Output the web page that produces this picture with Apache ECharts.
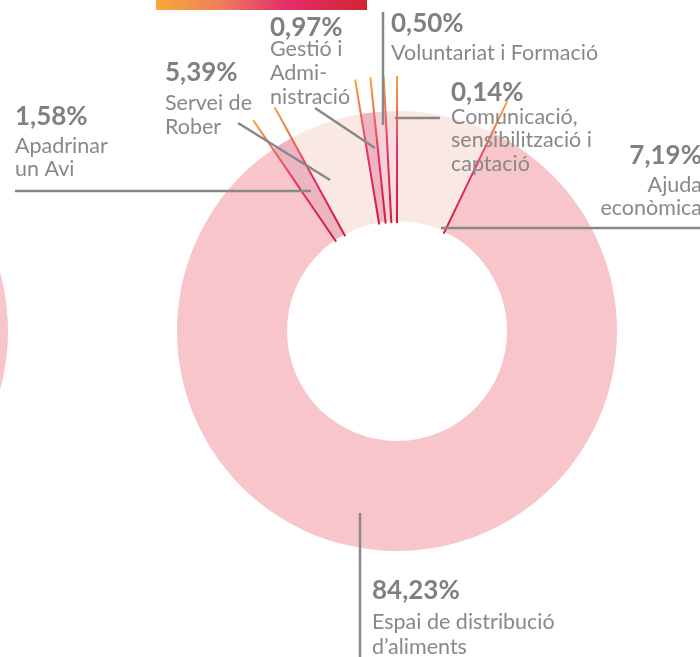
<!DOCTYPE html>
<html>
<head>
<meta charset="utf-8">
<script src="https://cdn.jsdelivr.net/npm/echarts@6/dist/echarts.min.js"></script>
<style>
  html, body { margin: 0; padding: 0; background: #fff; }
  #chart { width: 700px; height: 657px; }
</style>
</head>
<body>
<div id="chart"></div>
<script>
// slices, clockwise from 12 o'clock
const categories = [
  "Ajuda econòmica",
  "Espai de distribució d’aliments",
  "Apadrinar un Avi",
  "Servei de Rober",
  "Gestió i Administració",
  "Voluntariat i Formació",
  "Comunicació, sensibilització i captació",
];
const shares = [7.19, 84.23, 1.58, 5.39, 0.97, 0.5, 0.14];
const pctLabels = ["7,19%", "84,23%", "1,58%", "5,39%", "0,97%", "0,50%", "0,14%"];
const nameLines = [
  ["Ajuda", "econòmica"],
  ["Espai de distribució", "d’aliments"],
  ["Apadrinar", "un Avi"],
  ["Servei de", "Rober"],
  ["Gestió i", "Admi-", "nistració"],
  ["Voluntariat i Formació"],
  ["Comunicació,", "sensibilització i", "captació"],
];
// the next chart's ring, only its edge shows on the left
const neighbourRing = [100];

const palette = ["#f9e8e3", "#f7c5ca", "#ecb5c1", "#f9e8e3", "#ecb5c1", "#f6d2d8", "#f8dde0"];
const GREY = "#888888";

// label placement (x, align, percent line centre, first name line centre, line step)
const labelPos = [
  { x: 702, align: "right", py: 156, by: 185, lh: 23 },
  { x: 372, align: "left", py: 591, by: 622, lh: 25 },
  { x: 15, align: "left", py: 117, by: 146, lh: 23 },
  { x: 165, align: "left", py: 73, by: 103, lh: 24 },
  { x: 270, align: "left", py: 28, by: 49, lh: 24 },
  { x: 391, align: "left", py: 24, by: 53, lh: 24 },
  { x: 451, align: "left", py: 93, by: 117, lh: 23.5 },
];
// leader lines: label end -> inside the slice
const leaders = [
  [[702, 228], [441, 228]],
  [[360, 513], [360, 660]],
  [[15, 191], [311, 191]],
  [[238, 123], [330, 180]],
  [[315, 108], [375, 148]],
  [[383, 12], [383, 125]],
  [[395, 118], [440, 118]],
];

const chart = echarts.init(document.getElementById("chart"));
chart.setOption({
  animation: false,
  series: [
    {
      type: "pie",
      center: [397, 331],
      radius: [110, 220],
      startAngle: 90,
      clockwise: true,
      minAngle: 3,
      silent: true,
      label: { show: false },
      labelLine: { show: false },
      itemStyle: { borderWidth: 0 },
      data: categories.map((name, i) => ({
        name: name,
        value: shares[i],
        itemStyle: { color: palette[i] },
      })),
    },
    {
      type: "pie",
      center: [-212, 331],
      radius: [110, 220],
      silent: true,
      label: { show: false },
      labelLine: { show: false },
      itemStyle: { borderWidth: 0, color: "#f7c5ca" },
      data: neighbourRing,
    },
  ],
});

// boundaries between slices, taken from the pie layout
const pieData = chart.getModel().getSeriesByIndex(0).getData();
const elements = [];

// header strip cut off at the top
elements.push({
  type: "rect",
  z: 100,
  shape: { x: 156, y: -6, width: 211, height: 16 },
  style: {
    fill: {
      type: "linear", x: 0, y: 0, x2: 1, y2: 0,
      colorStops: [
        { offset: 0, color: "#f7a936" },
        { offset: 0.3, color: "#ef7f5c" },
        { offset: 0.62, color: "#e52c6b" },
        { offset: 1, color: "#d02632" },
      ],
    },
  },
});

for (let i = 0; i < shares.length; i++) {
  const l = pieData.getItemLayout(i);
  const a = l.startAngle;
  const x1 = l.cx + 108 * Math.cos(a), y1 = l.cy + 108 * Math.sin(a);
  const x2 = l.cx + 255 * Math.cos(a), y2 = l.cy + 255 * Math.sin(a);
  elements.push({
    type: "line",
    z: 100,
    shape: { x1: x2, y1: y2, x2: x1, y2: y1 },
    style: {
      lineWidth: 2,
      stroke: {
        type: "linear", x: x2, y: y2, x2: x1, y2: y1, global: true,
        colorStops: [
          { offset: 0, color: "#f8a53a" },
          { offset: 0.5, color: "#e8306a" },
          { offset: 1, color: "#d01c38" },
        ],
      },
    },
  });
}

leaders.forEach((pts) => {
  elements.push({
    type: "polyline",
    z: 101,
    shape: { points: pts },
    style: { stroke: GREY, lineWidth: 2.5, fill: null },
  });
});

labelPos.forEach((p, i) => {
  elements.push({
    type: "text",
    z: 102,
    x: p.x,
    y: p.py,
    style: {
      text: pctLabels[i],
      font: "bold 26px Lato",
      fill: "#808080",
      align: p.align, textAlign: p.align,
      verticalAlign: "middle", textVerticalAlign: "middle",
    },
  });
  elements.push({
    type: "text",
    z: 102,
    x: p.x,
    y: p.by - p.lh / 2,
    style: {
      text: nameLines[i].join("\n"),
      font: "21.5px Lato",
      lineHeight: p.lh,
      fill: GREY,
      align: p.align, textAlign: p.align,
      verticalAlign: "top", textVerticalAlign: "top",
    },
  });
});

chart.setOption({ graphic: { elements: elements } });
</script>
</body>
</html>
